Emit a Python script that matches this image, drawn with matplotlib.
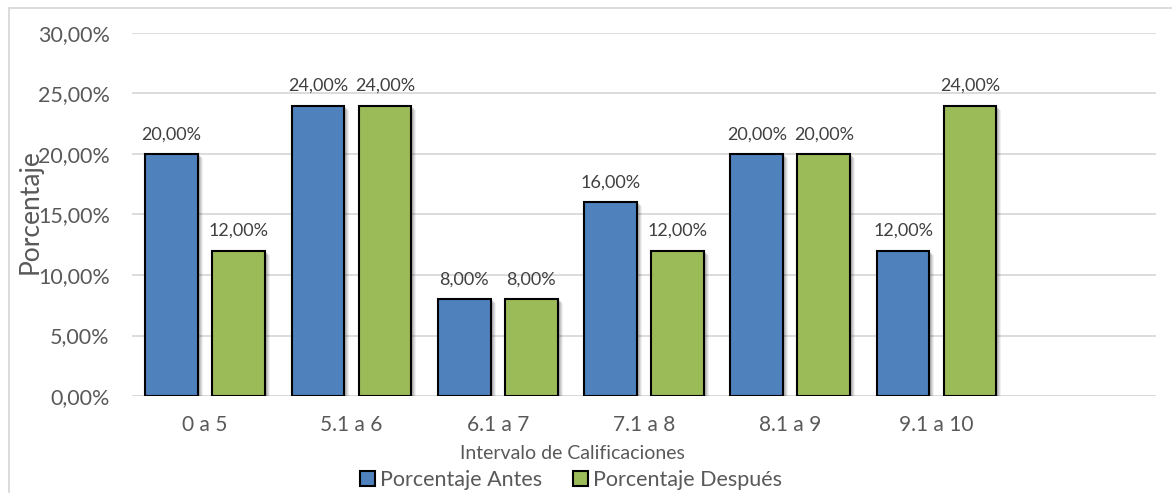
import matplotlib
matplotlib.use("Agg")
import matplotlib.pyplot as plt
import matplotlib.transforms as mtransforms
from matplotlib.patches import Rectangle
from matplotlib.lines import Line2D
import numpy as np

categories = ["0 a 5", "5.1 a 6", "6.1 a 7", "7.1 a 8", "8.1 a 9", "9.1 a 10"]
antes = [20.0, 24.0, 8.0, 16.0, 20.0, 12.0]
despues = [12.0, 24.0, 8.0, 12.0, 20.0, 24.0]
yticks = [0, 5, 10, 15, 20, 25, 30]
series_names = ["Porcentaje Antes", "Porcentaje Después"]
xlabel = "Intervalo de Calificaciones"
ylabel = "Porcentaje"

BLUE = "#4F81BD"
GREEN = "#9BBB59"
TXT = "#595959"
GRID = "#D9D9D9"

plt.rcParams['font.family'] = ['Lato', 'DejaVu Sans']

W, H = 1172, 494
fig = plt.figure(figsize=(W / 100, H / 100), dpi=100)
ax = fig.add_axes([132 / W, 1 - 396 / H, (1156 - 132) / W, (396 - 33) / H])

x = np.arange(len(categories))
bw = 0.36
off = 0.229
b1 = ax.bar(x - off, antes, bw, color=BLUE, edgecolor="black", linewidth=1.5, zorder=3)
b2 = ax.bar(x + off, despues, bw, color=GREEN, edgecolor="black", linewidth=1.5, zorder=3)

# soft shadows to the lower right
for bars in (b1, b2):
    for p in bars:
        for dx, dy, a in [(5, -4, 0.06), (4, -3, 0.08), (3, -2, 0.10), (2, -1, 0.10)]:
            tr = ax.transData + mtransforms.ScaledTranslation(dx / 100, dy / 100, fig.dpi_scale_trans)
            r = Rectangle((p.get_x(), p.get_y()), p.get_width(), p.get_height(),
                          transform=tr, facecolor="black", alpha=a, edgecolor="none", zorder=2)
            ax.add_patch(r)

for bars, vals in ((b1, antes), (b2, despues)):
    for p, v in zip(bars, vals):
        ax.annotate(f"{v:.2f}%".replace(".", ","), (p.get_x() + p.get_width() / 2, v),
                    xytext=(0, 8.5), textcoords="offset points", ha="center", va="bottom",
                    fontsize=13, color="#404040")

ax.set_xlim(-0.5, 6.5)
ax.set_ylim(0, 30)
ax.set_yticks(yticks)
ax.set_yticklabels([f"{t:.2f}%".replace(".", ",") for t in yticks], fontsize=15.5, color=TXT)
ax.set_xticks(x)
ax.set_xticklabels(categories, fontsize=15, color=TXT)
ax.tick_params(length=0)
ax.tick_params(axis="y", pad=16)
ax.tick_params(axis="x", pad=14)
ax.yaxis.grid(True, color=GRID, linewidth=1.3, zorder=0)
ax.set_axisbelow(True)
for s in ax.spines.values():
    s.set_visible(False)
ax.axhline(0, color=GRID, linewidth=1.3, zorder=1)

fig.text(572.5 / W, 1 - 453 / H, xlabel, ha="center", va="center",
         fontsize=14, color=TXT)
fig.text(30 / W, 1 - 212 / H, ylabel, rotation=90, ha="center", va="center",
         fontsize=19, color=TXT)

handles = [Rectangle((0, 0), 1, 1, facecolor=BLUE, edgecolor="black", linewidth=1.5),
           Rectangle((0, 0), 1, 1, facecolor=GREEN, edgecolor="black", linewidth=1.5)]
leg = fig.legend(handles, series_names, loc="center", bbox_to_anchor=(571 / W, 1 - 480 / H),
                 ncol=2, frameon=False, fontsize=15.5, handlelength=0.7, handleheight=0.7,
                 handletextpad=0.25, columnspacing=1.4, borderaxespad=0)
for t in leg.get_texts():
    t.set_color(TXT)

# outer chart border (top and left visible)
fig.add_artist(Line2D([8.5 / W, 1], [1 - 8.5 / H, 1 - 8.5 / H], transform=fig.transFigure,
                      color=GRID, linewidth=1.3))
fig.add_artist(Line2D([8.5 / W, 8.5 / W], [1 - 8.5 / H, 1 - 492 / H], transform=fig.transFigure,
                      color=GRID, linewidth=1.3))

fig.savefig("out.png", dpi=100, facecolor="white")
